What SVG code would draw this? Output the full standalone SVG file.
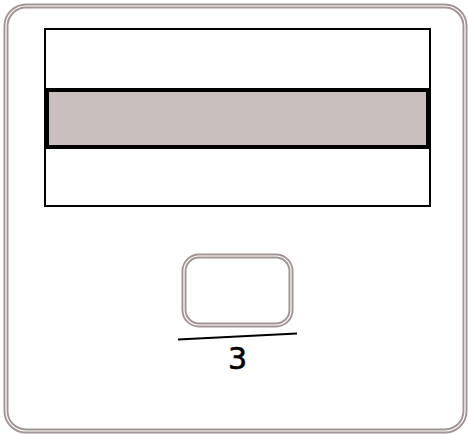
<svg xmlns="http://www.w3.org/2000/svg" width="468" height="434" viewBox="0 0 468 434">
<style>
.dbl-o{fill:none;stroke:#a39494;stroke-width:5}
.dbl-i{fill:none;stroke:#ffffff;stroke-width:1.2}
.cell{fill:#ffffff;stroke:#000000;stroke-width:2}
.lbl{font-family:"DejaVu Sans","Liberation Sans",sans-serif;font-size:30px;fill:#000000;text-anchor:middle;stroke:#000;stroke-width:0.6}
</style>
<rect x="0" y="0" width="468" height="434" fill="#ffffff"/>
<g id="frame">
<rect class="dbl-o" x="6" y="6" width="459" height="425" rx="20"/>
<rect class="dbl-i" x="6" y="6" width="459" height="425" rx="20"/>
</g>
<g id="table">
<rect class="cell" x="45" y="29" width="385" height="177"/>
<line x1="45" y1="89" x2="430" y2="89" stroke="#000" stroke-width="2"/>
<line x1="45" y1="148" x2="430" y2="148" stroke="#000" stroke-width="2"/>
<rect x="47.5" y="90.5" width="380" height="56" fill="#c8bfbe" stroke="#000000" stroke-width="3"/>
</g>
<g id="button">
<rect class="dbl-o" x="184" y="256" width="107" height="69" rx="15"/>
<rect class="dbl-i" x="184" y="256" width="107" height="69" rx="15"/>
</g>
<g id="connectors">
<line x1="178" y1="339.5" x2="297" y2="333.5" stroke="#000000" stroke-width="2"/>
</g>
<g id="label">
<text class="lbl" x="237.5" y="369">3</text>
</g>
</svg>
